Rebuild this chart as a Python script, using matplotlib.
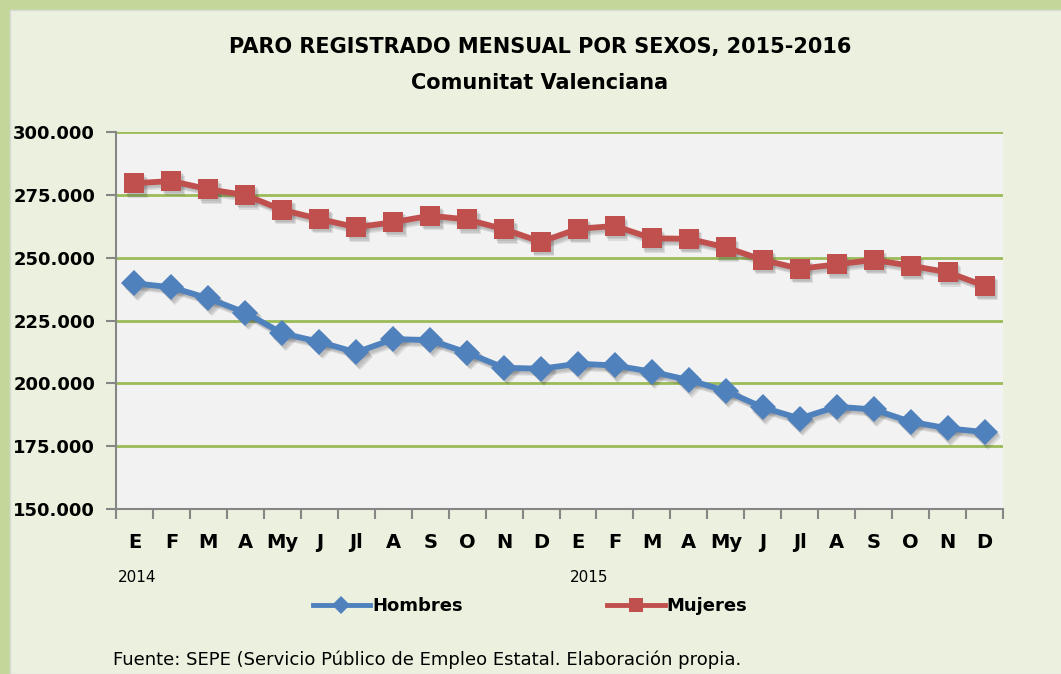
import matplotlib
matplotlib.use('Agg')
import matplotlib.pyplot as plt
import matplotlib.transforms as mtransforms
from matplotlib.patches import Rectangle
from matplotlib.lines import Line2D
from matplotlib.ticker import FuncFormatter, FixedLocator

# months (two years)
meses = ['E', 'F', 'M', 'A', 'My', 'J', 'Jl', 'A', 'S', 'O', 'N', 'D'] * 2
anios = ['2014', '2015']

# registered unemployment
hombres = [239800, 238200, 233800, 228100, 219900, 216500, 212300, 217600, 217200, 212200, 206200, 205800,
           207800, 207100, 204600, 201300, 197000, 190400, 186000, 190700, 189600, 184700, 182100, 180600]
mujeres = [279600, 280500, 277200, 274900, 269000, 265400, 262100, 264100, 266700, 265200, 261300, 256300,
           261500, 262600, 257700, 257500, 254100, 249100, 245600, 247300, 249100, 246800, 244200, 238800]

azul = '#4F81BD'
rojo = '#C0504D'
verde = '#9BBB59'

fig = plt.figure(figsize=(10.61, 6.74), dpi=100)
fig.patch.set_facecolor('#C4D79B')
# inner chart area
fig.patches.append(Rectangle((10 / 1061, 0), 1, 1 - 10 / 674, transform=fig.transFigure,
                             facecolor='#EBF1DE', edgecolor='#D9D9D9', linewidth=1, zorder=-10))

ax = fig.add_axes([116 / 1061, 1 - 509 / 674, 887 / 1061, 377 / 674])
ax.set_zorder(1)
ax.set_facecolor('#F2F2F2')

x = list(range(len(meses)))

# soft drop shadow under the series
for k, a in [(2.5, 0.12), (1.8, 0.12), (1.1, 0.1)]:
    sh = mtransforms.offset_copy(ax.transData, fig=fig, x=k, y=-k * 1.3, units='points')
    for serie, mk, ms in [(hombres, 'D', 13), (mujeres, 's', 14)]:
        ax.plot(x, serie, color='#404040', alpha=a, lw=4.2, marker=mk, ms=ms, mew=0,
                transform=sh, zorder=2)

ax.plot(x, hombres, color=azul, lw=4.2, marker='D', ms=13, mew=0, zorder=3)
ax.plot(x, mujeres, color=rojo, lw=4.2, marker='s', ms=14, mew=0, zorder=3)

ax.set_xlim(-0.5, len(meses) - 0.5)
ax.set_ylim(150000, 300000)
ax.set_yticks(range(150000, 300001, 25000))
ax.yaxis.set_major_formatter(FuncFormatter(lambda v, p: f'{v:,.0f}'.replace(',', '.')))
for yv in range(175000, 300001, 25000):
    ax.axhline(yv, color=verde, lw=2, zorder=1)

ax.set_xticks(x)
ax.set_xticklabels(meses)
ax.xaxis.set_minor_locator(FixedLocator([i - 0.5 for i in range(len(meses) + 1)]))
ax.tick_params(axis='x', which='major', length=0, pad=17, labelsize=14)
ax.tick_params(axis='x', which='minor', length=7, width=1.5, color='#868686')
ax.tick_params(axis='y', length=7, width=1.5, color='#868686', labelsize=13, pad=8)
for lab in ax.get_xticklabels() + ax.get_yticklabels():
    lab.set_fontweight('bold')

for s in ['top', 'right']:
    ax.spines[s].set_visible(False)
for s in ['left', 'bottom']:
    ax.spines[s].set_color('#868686')
    ax.spines[s].set_linewidth(1.5)

# year labels
fig.text(118 / 1061, 1 - 577 / 674, anios[0], fontsize=11, va='center', ha='left')
fig.text(570 / 1061, 1 - 578 / 674, anios[1], fontsize=11, va='center', ha='left')

fig.text(540 / 1061, 1 - 47 / 674, 'PARO REGISTRADO MENSUAL POR SEXOS, 2015-2016',
         fontsize=15, fontweight='bold', ha='center', va='center')
fig.text(540 / 1061, 1 - 83 / 674, 'Comunitat Valenciana',
         fontsize=15, fontweight='bold', ha='center', va='center')

handles = [Line2D([], [], color=azul, lw=3.5, marker='D', ms=9, mew=0),
           Line2D([], [], color=rojo, lw=3.5, marker='s', ms=10, mew=0)]
fig.legend(handles, ['Hombres', 'Mujeres'], loc='center', bbox_to_anchor=(530 / 1061, 1 - 606 / 674),
           ncol=2, frameon=False, handlelength=3.2, handletextpad=0.1, columnspacing=8,
           prop={'weight': 'bold', 'size': 13})

fig.text(113 / 1061, 1 - 660 / 674, 'Fuente: SEPE (Servicio Público de Empleo Estatal. Elaboración propia.',
         fontsize=13, ha='left', va='center')

fig.savefig('out.png', dpi=100, facecolor=fig.get_facecolor())
